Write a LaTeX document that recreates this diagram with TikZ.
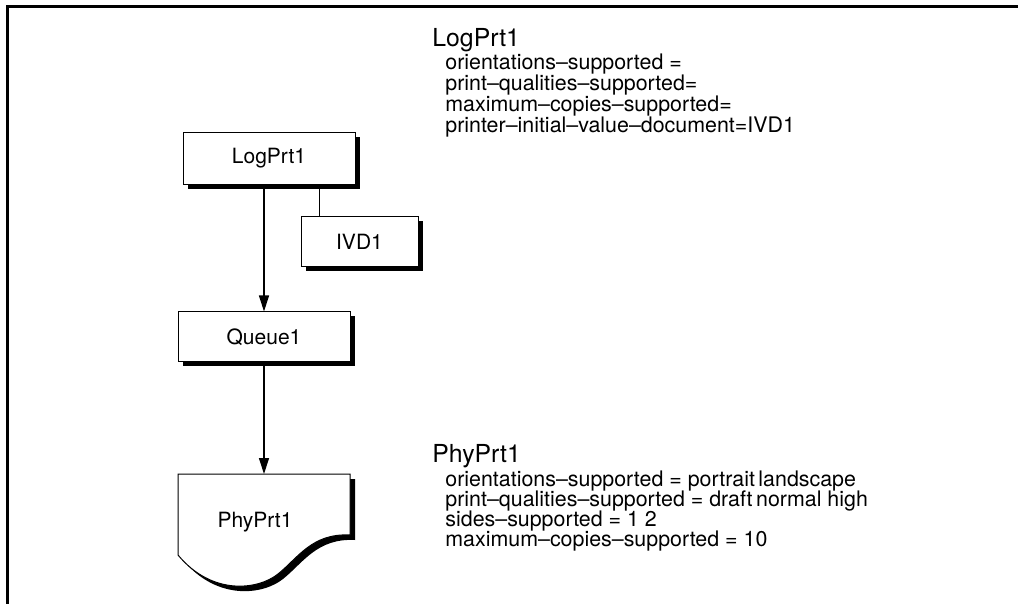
\documentclass[tikz,border=0pt]{standalone}
\usepackage{fontspec}
\setmainfont{TeX Gyre Heros}
\usepackage{tikz}
\usetikzlibrary{arrows.meta,shadows}

\begin{document}
\begin{tikzpicture}[x=0.5pt, y=-0.5pt,
	objbox/.style={draw, line width=0.5pt, fill=white, inner sep=0pt,
		font=\fontsize{10.5}{12}\selectfont,
		drop shadow={shadow xshift=2.25pt, shadow yshift=-2.25pt, opacity=1, fill=black}},
	flow/.style={line width=0.6pt, -{Triangle[length=8pt, width=5pt]}},
	heading/.style={anchor=base west, inner sep=0pt, font=\fontsize{12.4}{15}\selectfont},
	attr/.style={anchor=base west, inner sep=0pt, font=\fontsize{10.7}{13}\selectfont}]
	%%%%% START %%%%%
	
	\useasboundingbox (0,0) rectangle (1018,604);
	\draw[line width=1.5pt] (7,604) -- (7,7) -- (1018,7);
	
	% boxes
	\node[objbox, minimum width=86pt, minimum height=26pt] (logprt) at (269,158.5) {LogPrt1};
	\node[objbox, minimum width=58.5pt, minimum height=25pt] (ivd) at (359.5,242) {IVD1};
	\node[objbox, minimum width=86pt, minimum height=25pt] (queue) at (264,337) {Queue1};
	
	% physical printer (document shape)
	\fill[black, shift={(5,5)}] (178,474) -- (350,474) -- (350,535)
		.. controls (312,533) and (298,558) .. (278,574)
		.. controls (258,590) and (212,596) .. (178,555) -- cycle;
	\draw[line width=0.5pt, fill=white] (178,474) -- (350,474) -- (350,535)
		.. controls (312,533) and (298,558) .. (278,574)
		.. controls (258,590) and (212,596) .. (178,555) -- cycle;
	\node[inner sep=0pt, font=\fontsize{10.5}{12}\selectfont] (phyprt) at (255,522) {PhyPrt1};
	\coordinate (phytop) at (264,474);
	
	% connectors
	\draw[flow] (logprt.south -| queue.north) -- (queue.north);
	\draw[line width=0.5pt] ([xshift=9.5pt]ivd.north west) -- ([xshift=9.5pt]ivd.north west |- logprt.south);
	\draw[flow] (queue.south) -- (phytop);
	
	% attributes of LogPrt1
	\node[heading] (loghead) at (432,47) {LogPrt1};
	\node[attr] (loga) at (445,70) {orientations–supported =};
	\node[attr] (logb) at (445,91) {print–qualities–supported=};
	\node[attr] (logc) at (445,112) {maximum–copies–supported=};
	\node[attr] (logd) at (445,133) {printer–initial–value–document=IVD1};
	
	% attributes of PhyPrt1
	\node[heading] (phyhead) at (432,462) {PhyPrt1};
	\node[attr] (phya) at (445,486) {orientations–supported = portrait\,landscape};
	\node[attr] (phyb) at (445,506) {print–qualities–supported = draft\,normal high};
	\node[attr] (phyc) at (445,526) {sides–supported = 1 2};
	\node[attr] (phyd) at (445,546) {maximum–copies–supported = 10};
	
	%%%%% END %%%%%
\end{tikzpicture}
\end{document}
